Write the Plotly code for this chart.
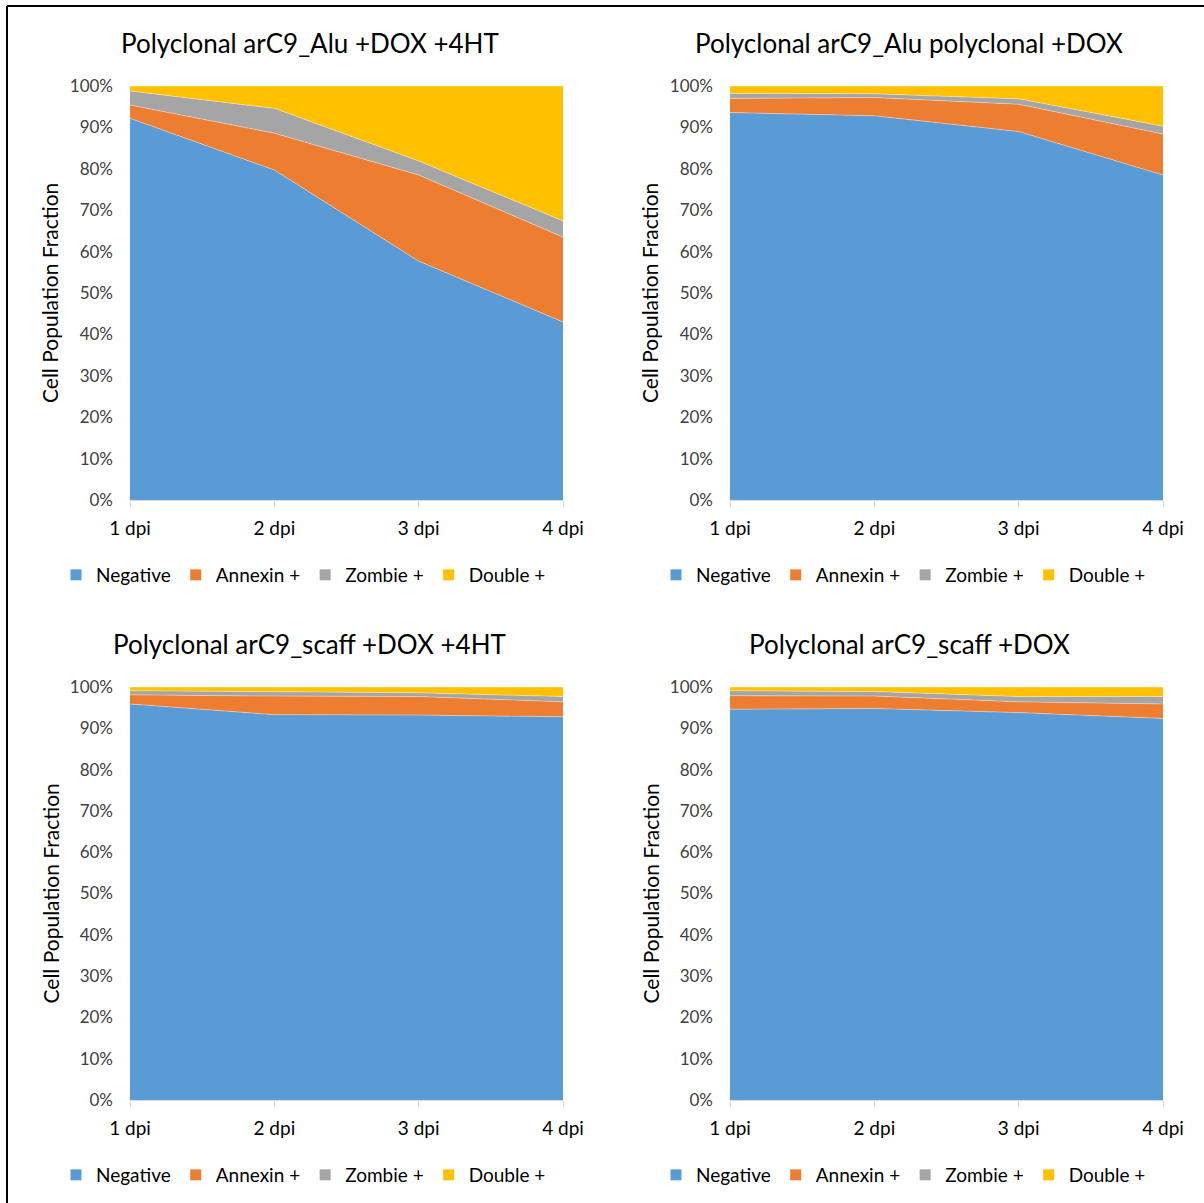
import plotly.graph_objects as go

W, H = 1204, 1203

categories = ["1 dpi", "2 dpi", "3 dpi", "4 dpi"]
x_pos = [1, 2, 3, 4]
series_names = ["Negative", "Annexin +", "Zombie +", "Double +"]
colors = ["#5B9BD5", "#ED7D31", "#A5A5A5", "#FFC000"]

titles = [
    "Polyclonal arC9_Alu +DOX +4HT",
    "Polyclonal arC9_Alu polyclonal +DOX",
    "Polyclonal arC9_scaff +DOX +4HT",
    "Polyclonal arC9_scaff +DOX",
]

# percent values per chart (Negative, Annexin +, Zombie +, Double +)
alu_4ht_negative = [92.2, 79.7, 57.7, 43.0]
alu_4ht_annexin = [3.2, 8.9, 20.8, 20.5]
alu_4ht_zombie = [3.4, 6.0, 3.4, 3.9]
alu_4ht_double = [1.2, 5.4, 18.1, 32.6]

alu_dox_negative = [93.6, 92.8, 89.0, 78.5]
alu_dox_annexin = [3.4, 4.4, 6.6, 9.9]
alu_dox_zombie = [1.2, 0.9, 1.3, 1.9]
alu_dox_double = [1.8, 1.9, 3.1, 9.7]

scaff_4ht_negative = [95.9, 93.3, 93.2, 92.8]
scaff_4ht_annexin = [2.2, 4.5, 4.5, 3.6]
scaff_4ht_zombie = [1.0, 1.1, 0.9, 1.3]
scaff_4ht_double = [0.9, 1.1, 1.4, 2.3]

scaff_dox_negative = [94.6, 94.8, 93.8, 92.4]
scaff_dox_annexin = [3.3, 3.0, 2.6, 3.5]
scaff_dox_zombie = [1.2, 1.1, 1.3, 1.8]
scaff_dox_double = [0.9, 1.1, 2.3, 2.3]

charts = [
    [alu_4ht_negative, alu_4ht_annexin, alu_4ht_zombie, alu_4ht_double],
    [alu_dox_negative, alu_dox_annexin, alu_dox_zombie, alu_dox_double],
    [scaff_4ht_negative, scaff_4ht_annexin, scaff_4ht_zombie, scaff_4ht_double],
    [scaff_dox_negative, scaff_dox_annexin, scaff_dox_zombie, scaff_dox_double],
]

# pixel boxes of plot areas: (left, right, top, bottom)
boxes = [
    (130, 563, 86, 500),
    (730, 1163, 86, 500),
    (130, 563, 687, 1100),
    (730, 1163, 687, 1100),
]
title_centers = [309.5, 908.5, 309.5, 909]

FONT = "Lato, Open Sans, sans-serif"

def px(x):
    return x / W

def py(y):
    return 1 - y / H

fig = go.Figure()
layout = dict(
    width=W, height=H, autosize=False,
    margin=dict(l=0, r=0, t=0, b=0, pad=0, autoexpand=False),
    paper_bgcolor="white", plot_bgcolor="white",
    font=dict(family=FONT, color="#404040"),
    annotations=[], shapes=[],
)

for i, (data, box, title) in enumerate(zip(charts, boxes, titles)):
    n = i + 1
    suffix = "" if n == 1 else str(n)
    legend_name = "legend" if n == 1 else f"legend{n}"
    for name, vals, col in zip(series_names, data, colors):
        fig.add_trace(go.Scatter(
            x=x_pos, y=vals, name=name,
            xaxis="x" + suffix, yaxis="y" + suffix,
            stackgroup=f"g{n}", groupnorm="percent",
            mode="lines", line=dict(width=0.6, color="rgba(255,255,255,0.6)"),
            fillcolor=col, showlegend=False,
            hoverinfo="x+y+name",
        ))
    # legend entries with square markers
    for name, col in zip(series_names, colors):
        fig.add_trace(go.Scatter(
            x=[None], y=[None], name=name, mode="markers",
            marker=dict(symbol="square", size=11, color=col),
            xaxis="x" + suffix, yaxis="y" + suffix,
            legend=legend_name, showlegend=True,
        ))
    l, r, t, b = box
    layout["xaxis" + suffix] = dict(
        domain=[px(l), px(r)], anchor="y" + suffix, automargin=False,
        range=[1, 4], tickvals=x_pos, ticktext=categories,
        showgrid=False, zeroline=False,
        showline=True, linecolor="#D9D9D9", linewidth=1,
        ticks="outside", ticklen=6, tickcolor="#D9D9D9", ticklabelstandoff=5,
        tickfont=dict(size=19, color="#000000", family=FONT),
    )
    layout["yaxis" + suffix] = dict(
        domain=[py(b), py(t)], anchor="x" + suffix, automargin=False,
        range=[0, 100], dtick=10, ticksuffix="%",
        showgrid=True, gridcolor="#D9D9D9", zeroline=False,
        showline=False, ticks="", ticklabelstandoff=16,
        tickfont=dict(size=17, color="#404040", family=FONT),
    )
    layout["annotations"].append(dict(
        text=title, x=px(title_centers[i]), y=py(t - 43), xref="paper", yref="paper",
        xanchor="center", yanchor="middle", showarrow=False,
        font=dict(size=26, color="#000000", family=FONT),
    ))
    layout["annotations"].append(dict(
        text="Cell Population Fraction", x=px(l - 80), y=py((t + b) / 2),
        xref="paper", yref="paper", textangle=-90,
        xanchor="center", yanchor="middle", showarrow=False,
        font=dict(size=21, color="#000000", family=FONT),
    ))
    layout[legend_name] = dict(
        orientation="h", x=px(l - 74), y=py(b + 75), xanchor="left", yanchor="middle",
        font=dict(size=19, color="#000000", family=FONT),
        bgcolor="rgba(0,0,0,0)", itemwidth=30, traceorder="normal",
    )

# figure frame (left and top edges only)
layout["shapes"].append(dict(
    type="line", xref="paper", yref="paper",
    x0=px(7), x1=px(7), y0=py(6), y1=0,
    line=dict(color="black", width=2), layer="above",
))
layout["shapes"].append(dict(
    type="line", xref="paper", yref="paper",
    x0=px(7), x1=1, y0=py(6), y1=py(6),
    line=dict(color="black", width=2), layer="above",
))

fig.update_layout(**layout)
fig.write_html("out.html")
